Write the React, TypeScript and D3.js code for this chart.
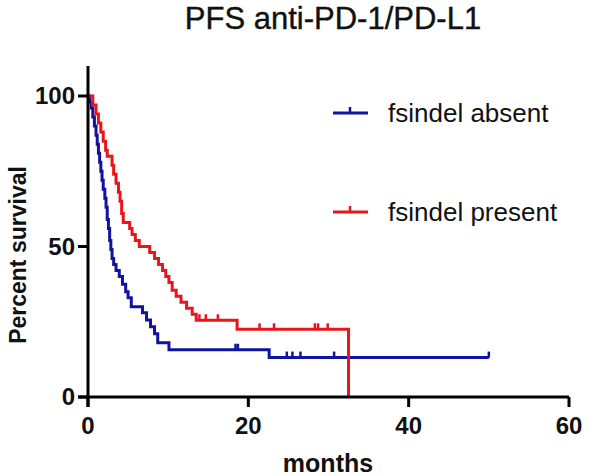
import React from "react";
import * as d3 from "d3";

const title = "PFS anti-PD-1/PD-L1";
const xLabel = "months";
const yLabel = "Percent survival";
const xTicks = [0, 20, 40, 60];
const yTicks = [0, 50, 100];

const seriesNames = ["fsindel absent", "fsindel present"];

// fsindel absent: event times (months) and survival (%) after each step
const absentTimes = [0.2, 0.4, 0.6, 0.8, 1.0, 1.15, 1.3, 1.45, 1.6, 1.75, 1.9, 2.1, 2.25, 2.4, 2.55, 2.7, 2.85, 3.0, 3.2, 3.5, 3.9, 4.3, 4.7, 5.0, 5.4, 6.8, 7.3, 7.8, 8.3, 8.7, 10.1, 22.6];
const absentSurv = [98, 96, 93, 90, 87, 84, 81, 78, 75, 72, 69, 66, 63, 59, 56, 52, 49, 46, 44, 42, 40, 37.5, 35, 33, 30, 28, 25.6, 23.3, 21, 18, 15.7, 13.1];
const absentEnd = 50;
const absentCensorTimes = [18.4, 18.7, 24.8, 25.5, 26.5, 30.7, 50];

// fsindel present
const presentTimes = [0.6, 1.0, 1.3, 1.6, 1.9, 2.2, 2.4, 3.0, 3.2, 3.5, 3.8, 4.0, 4.2, 4.4, 5.2, 5.5, 5.9, 6.4, 7.7, 8.3, 8.8, 9.3, 9.7, 10.1, 10.5, 11.0, 11.6, 12.3, 13.0, 13.5, 18.6, 32.5];
const presentSurv = [97, 94, 91, 88, 85, 82, 80, 77, 74, 71, 68, 65, 61, 58, 56, 54, 52, 50, 48, 46, 44, 42, 40, 38, 35.5, 33.5, 31.5, 29.5, 27.5, 25.5, 22.5, 0];
const presentEnd = 32.5;
const presentCensorTimes = [13.9, 14.7, 16.2, 21.4, 23.2, 28.3, 28.7, 29.9];

const colors = ["#1212a0", "#e6161b"];

function buildPoints(times: number[], surv: number[], end: number): [number, number][] {
  const pts: [number, number][] = [[0, 100]];
  times.forEach((t, i) => pts.push([t, surv[i]]));
  const last = pts[pts.length - 1];
  if (last[0] < end) pts.push([end, last[1]]);
  return pts;
}

function survAt(times: number[], surv: number[], t: number): number {
  let s = 100;
  for (let i = 0; i < times.length; i++) {
    if (times[i] <= t) s = surv[i];
  }
  return s;
}

export default function App() {
  const W = 597;
  const H = 476;
  const x = d3.scaleLinear().domain([0, 60]).range([88, 569]);
  const y = d3.scaleLinear().domain([0, 100]).range([397, 96]);
  const font = "'Liberation Sans', Arial, sans-serif";

  const line = d3
    .line<[number, number]>()
    .x((d) => x(d[0]))
    .y((d) => y(d[1]))
    .curve(d3.curveStepAfter);

  const series = [
    {
      pts: buildPoints(absentTimes, absentSurv, absentEnd),
      censors: absentCensorTimes.map((t) => [t, survAt(absentTimes, absentSurv, t)] as [number, number]),
      color: colors[0],
    },
    {
      pts: buildPoints(presentTimes, presentSurv, presentEnd),
      censors: presentCensorTimes.map((t) => [t, survAt(presentTimes, presentSurv, t)] as [number, number]),
      color: colors[1],
    },
  ];

  const legendY = [113, 212];

  return (
    <svg
      width={W}
      height={H}
      style={{ position: "absolute", left: 0, top: 0, background: "#fff" }}
      fontFamily={font}
    >
      <rect x={0} y={0} width={W} height={H} fill="#fff" />
      <text x={333} y={29} textAnchor="middle" fontSize={31} fill="#111" stroke="#111" strokeWidth={0.4}>
        {title}
      </text>

      {/* curves */}
      {series.map((s, i) => (
        <g key={i}>
          <path d={line(s.pts) || ""} fill="none" stroke={s.color} strokeWidth={3} />
          {s.censors.map((c, j) => (
            <line
              key={j}
              x1={x(c[0])}
              x2={x(c[0])}
              y1={y(c[1])}
              y2={y(c[1]) - 6}
              stroke={s.color}
              strokeWidth={2.5}
            />
          ))}
        </g>
      ))}

      {/* axes */}
      <line x1={x(0)} x2={x(0)} y1={y(110)} y2={y(0) + 10} stroke="#000" strokeWidth={3} />
      <line x1={x(0) - 10} x2={x(60)} y1={y(0)} y2={y(0)} stroke="#000" strokeWidth={3} />
      {yTicks.map((t) => (
        <g key={"y" + t}>
          <line x1={x(0) - 10} x2={x(0)} y1={y(t)} y2={y(t)} stroke="#000" strokeWidth={3} />
          <text
            x={x(0) - 13}
            y={y(t)}
            dy="0.35em"
            textAnchor="end"
            fontSize={24}
            fontWeight="bold"
            fill="#111"
          >
            {t}
          </text>
        </g>
      ))}
      {xTicks.map((t) => (
        <g key={"x" + t}>
          <line x1={x(t)} x2={x(t)} y1={y(0)} y2={y(0) + 10} stroke="#000" strokeWidth={3} />
          <text x={x(t)} y={434} textAnchor="middle" fontSize={24} fontWeight="bold" fill="#111">
            {t}
          </text>
        </g>
      ))}
      <text x={328} y={472} textAnchor="middle" fontSize={25} fontWeight="bold" fill="#111">
        {xLabel}
      </text>
      <text
        transform={`translate(26,255) rotate(-90)`}
        textAnchor="middle"
        fontSize={23}
        fontWeight="bold"
        fill="#111"
      >
        {yLabel}
      </text>

      {/* legend */}
      {seriesNames.map((n, i) => (
        <g key={n}>
          <line x1={333} x2={368} y1={legendY[i]} y2={legendY[i]} stroke={colors[i]} strokeWidth={3} />
          <line x1={350} x2={350} y1={legendY[i]} y2={legendY[i] - 6} stroke={colors[i]} strokeWidth={2.5} />
          <text x={388} y={legendY[i] + 9} fontSize={26} fill="#111">
            {n}
          </text>
        </g>
      ))}
    </svg>
  );
}
